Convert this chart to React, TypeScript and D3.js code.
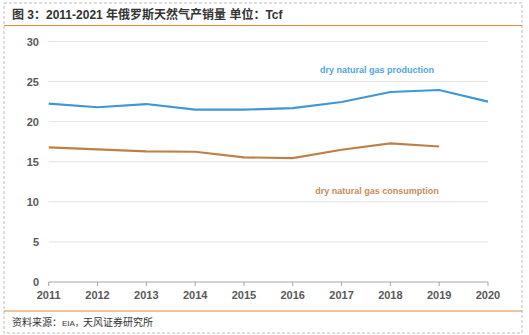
import React from "react";
import * as d3 from "d3";

const years = [2011, 2012, 2013, 2014, 2015, 2016, 2017, 2018, 2019, 2020];
const production = [22.25, 21.8, 22.2, 21.5, 21.5, 21.7, 22.45, 23.7, 23.95, 22.5];
const consumption = [16.8, 16.55, 16.3, 16.25, 15.55, 15.45, 16.5, 17.3, 16.9];
const yTicks = [0, 5, 10, 15, 20, 25, 30];
const title = "图 3：2011-2021 年俄罗斯天然气产销量  单位：Tcf";
const sourceA = "资料来源：";
const sourceB = "EIA，";
const sourceC = "天风证券研究所";
const prodLabel = "dry natural gas production";
const consLabel = "dry natural gas consumption";

export default function App() {
  const W = 529, H = 335;
  const x = d3.scaleLinear().domain([2011, 2020]).range([48.7, 488]);
  const y = d3.scaleLinear().domain([0, 30]).range([282, 41.5]);
  const line = d3.line<number>().x((_, i) => x(years[i])).y((d) => y(d));
  const font = "Arial, 'Liberation Sans', 'Noto Sans CJK SC', sans-serif";
  return (
    <svg width={W} height={H} style={{ position: "absolute", left: 0, top: 0 }} fontFamily={font}>
      <rect x={4} y={3} width={518} height={330} fill="#fff" stroke="#bbb" strokeDasharray="3,2" />
      <text x={12} y={19} fontSize={12} fontWeight="bold" fill="#333">{title}</text>
      <line x1={4} x2={522} y1={25.5} y2={25.5} stroke="#e08a3c" strokeWidth={1.2} />
      {yTicks.map((t) => (
        <g key={t}>
          {t > 0 && <line x1={x(2011)} x2={x(2020)} y1={y(t)} y2={y(t)} stroke="#e3e3e3" strokeWidth={1} />}
          <text x={39} y={y(t) + 4} textAnchor="end" fontSize={11} fontWeight="bold" fill="#595959">{t}</text>
        </g>
      ))}
      <line x1={x(2011)} x2={x(2020)} y1={y(0)} y2={y(0)} stroke="#a6a6a6" />
      {years.map((yr) => (
        <g key={yr}>
          <line x1={x(yr)} x2={x(yr)} y1={y(0)} y2={y(0) + 4} stroke="#a6a6a6" />
          <text x={x(yr)} y={y(0) + 17} textAnchor="middle" fontSize={11} fontWeight="bold" fill="#595959">{yr}</text>
        </g>
      ))}
      <path d={line(production) || ""} fill="none" stroke="#3d97d8" strokeWidth={2.2} />
      <path d={line(consumption) || ""} fill="none" stroke="#bf8048" strokeWidth={2.2} />
      <text x={377} y={73} textAnchor="middle" fontSize={9} fontWeight="bold" fill="#4ea6e0">{prodLabel}</text>
      <text x={377} y={193.5} textAnchor="middle" fontSize={9} fontWeight="bold" fill="#c48c5a">{consLabel}</text>
      <line x1={4} x2={522} y1={311} y2={311} stroke="#e08a3c" strokeWidth={1.2} />
      <text x={12} y={326} fontSize={10} fill="#333">
        <tspan>{sourceA}</tspan>
        <tspan fontSize={8}>{sourceB}</tspan>
        <tspan>{sourceC}</tspan>
      </text>
    </svg>
  );
}
